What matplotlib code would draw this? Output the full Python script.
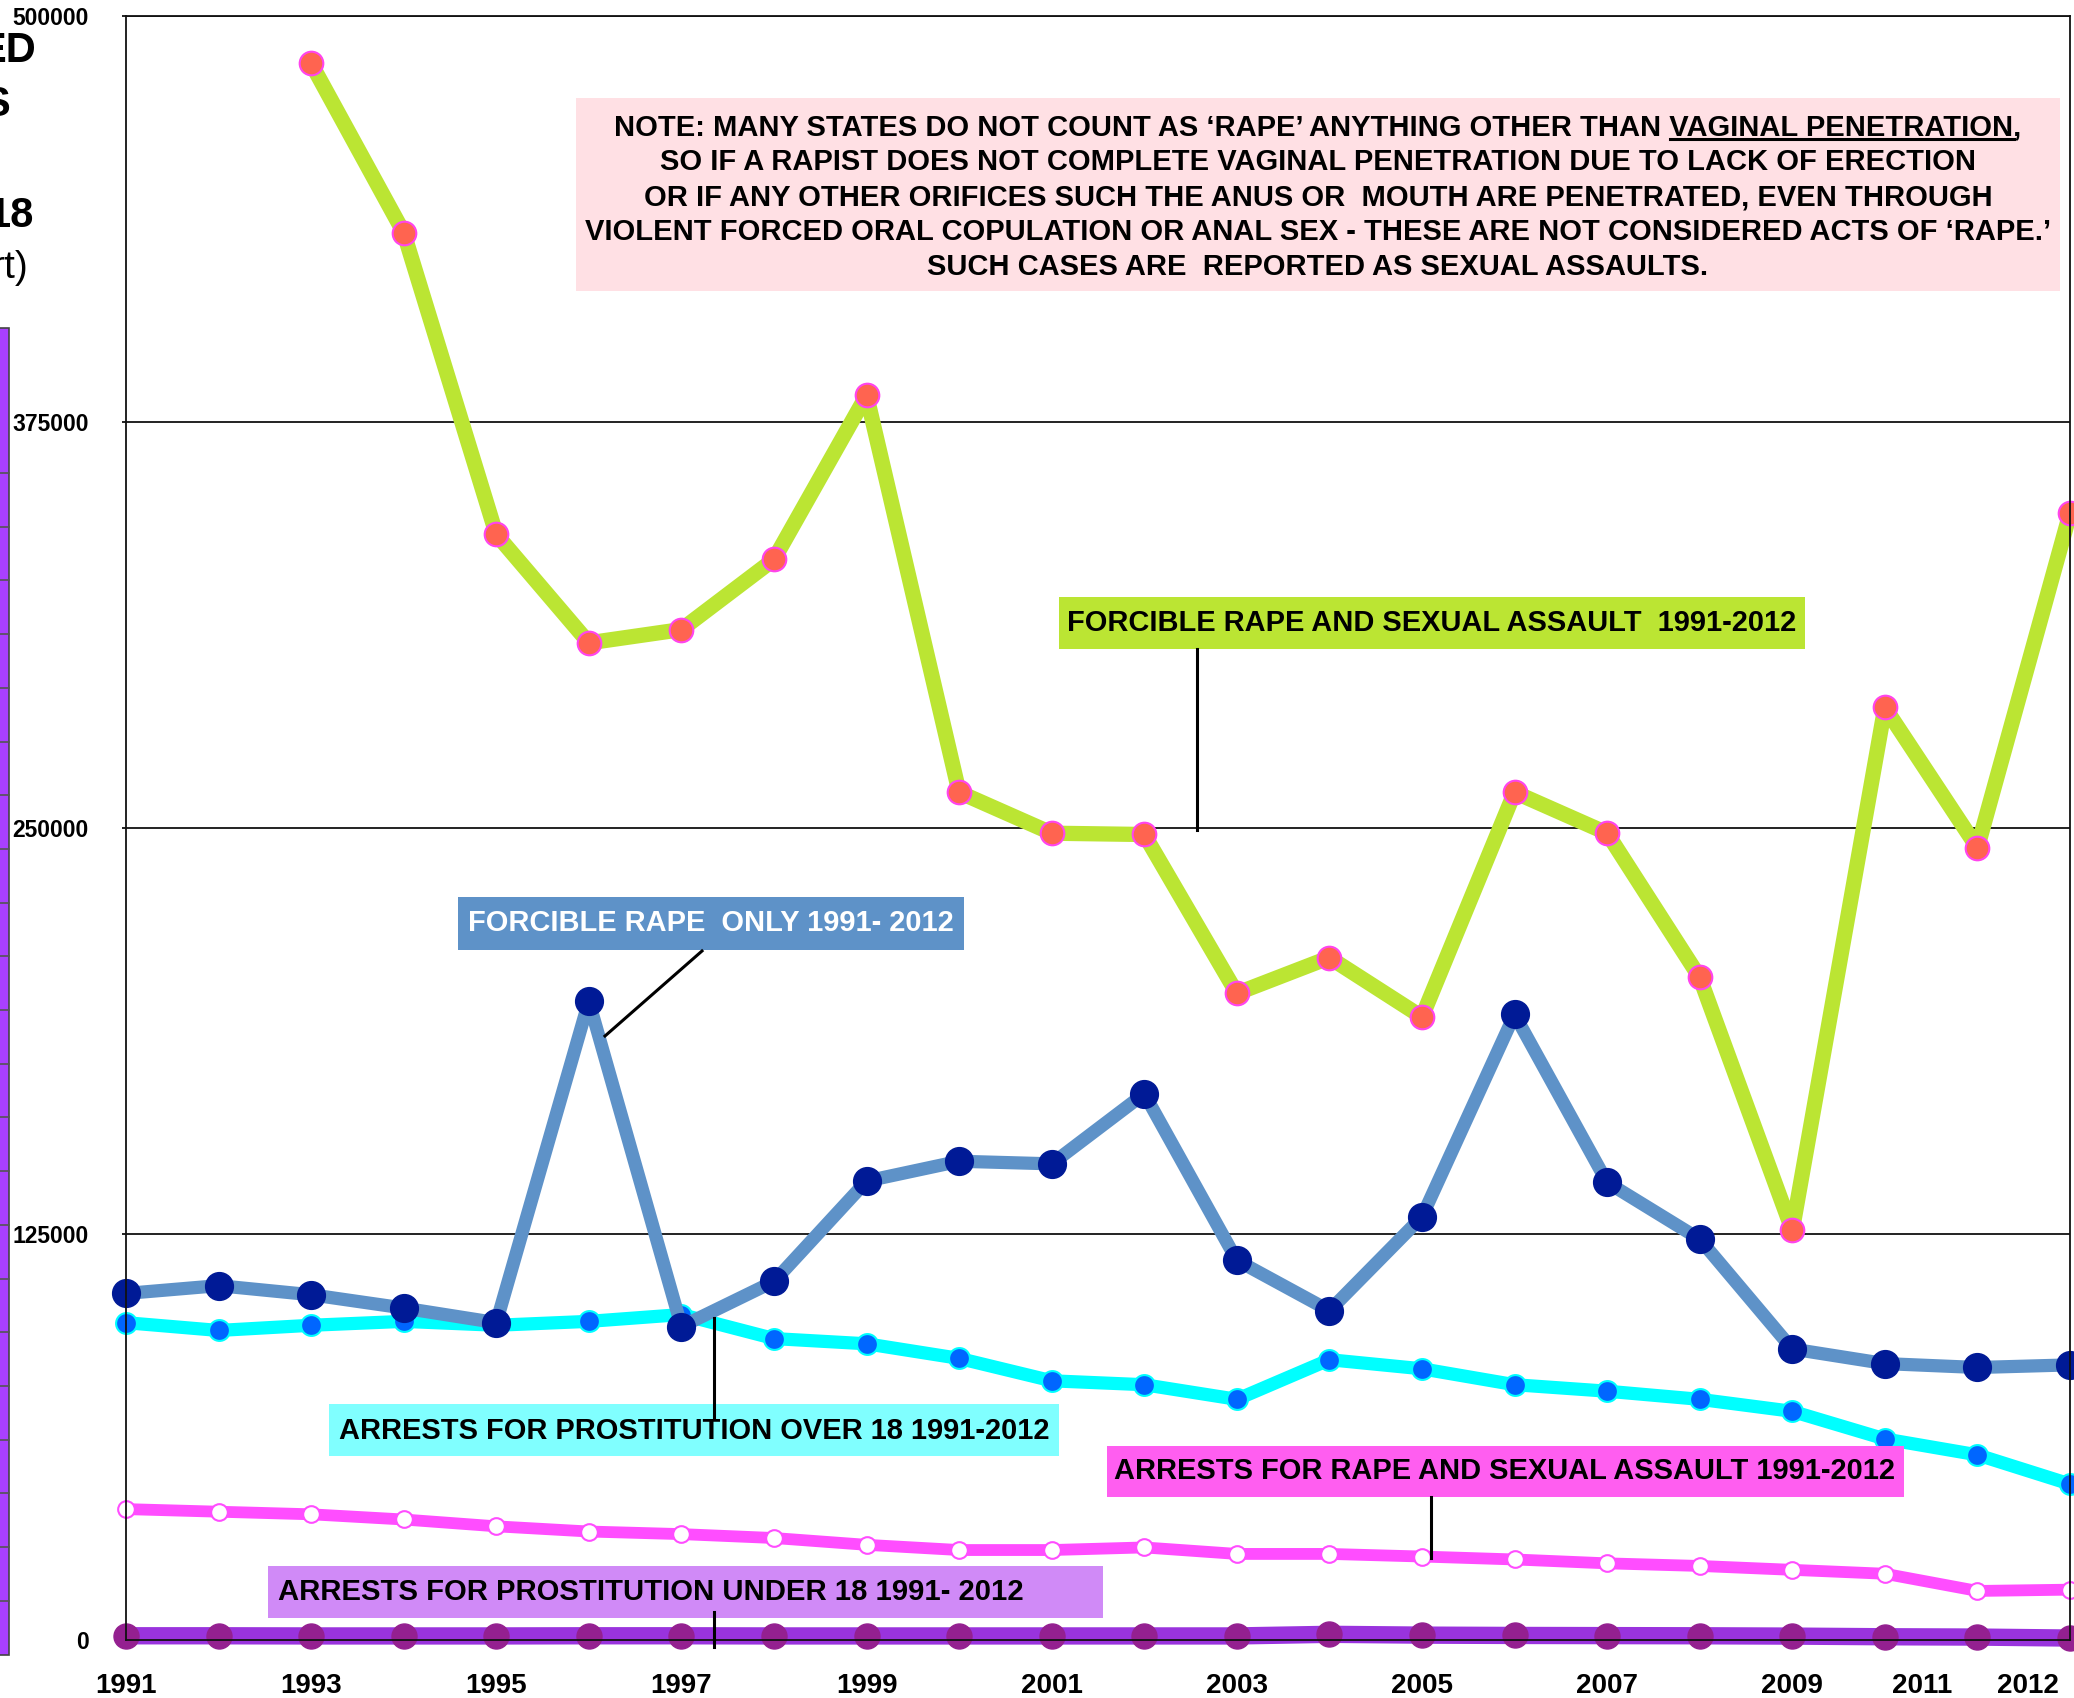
import matplotlib
matplotlib.use("Agg")
import matplotlib.pyplot as plt
from matplotlib.patches import Rectangle
from matplotlib.lines import Line2D

plt.rcParams['font.family'] = ['Liberation Sans', 'DejaVu Sans']

# --- data ---
years = list(range(1991, 2013))
idx = list(range(len(years)))

# forcible rape and sexual assault, starts 1993
sa_years_idx = idx[2:]
rape_sexual_assault = [485400, 433300, 340400, 307000, 311100, 332700, 383200,
                       261000, 248400, 248000, 199100, 210100, 191800, 261000,
                       248400, 204000, 126200, 287100, 243900, 346900]
forcible_rape = [106700, 109100, 106300, 102200, 97700, 196700, 96500, 110400,
                 141300, 147400, 146600, 168200, 116900, 101400, 130300, 192600,
                 140900, 123400, 89600, 85100, 83900, 84700]
prostitution_over18 = [97700, 95300, 96900, 98100, 96900, 98100, 100200, 92800,
                       91200, 86700, 79800, 78600, 74100, 86300, 83500, 78600,
                       76600, 74100, 70400, 61900, 57000, 48000]
arrests_rape_sa = [40300, 39500, 38700, 37100, 35000, 33400, 32600, 31400,
                   29300, 27700, 27700, 28500, 26500, 26500, 25700, 24800,
                   23600, 22800, 21600, 20400, 15100, 15500]
prostitution_under18 = [1300, 1300, 1250, 1250, 1250, 1300, 1300, 1250, 1250,
                        1250, 1250, 1250, 1250, 1750, 1500, 1400, 1350, 1300,
                        1200, 1000, 900, 600]

yticks = [0, 125000, 250000, 375000, 500000]
xtick_pos = [0, 2, 4, 6, 8, 10, 12, 14, 16, 18, 19.4, 20.55]
xtick_lab = ["1991", "1993", "1995", "1997", "1999", "2001", "2003", "2005",
             "2007", "2009", "2011", "2012"]

note_lines = [
    "NOTE: MANY STATES DO NOT COUNT AS \u2018RAPE\u2019 ANYTHING OTHER THAN VAGINAL PENETRATION,",
    "SO IF A RAPIST DOES NOT COMPLETE VAGINAL PENETRATION DUE TO LACK OF ERECTION",
    "OR IF ANY OTHER ORIFICES SUCH THE ANUS OR  MOUTH ARE PENETRATED, EVEN THROUGH",
    "VIOLENT FORCED ORAL COPULATION OR ANAL SEX - THESE ARE NOT CONSIDERED ACTS OF \u2018RAPE.\u2019",
    "SUCH CASES ARE  REPORTED AS SEXUAL ASSAULTS.",
]

W, H = 2074, 1698
fig = plt.figure(figsize=(W / 100, H / 100), dpi=100)


def fx(x):
    return x / W


def fy(y):
    return 1 - y / H


ax = fig.add_axes([fx(126), fy(1640), fx(2070) - fx(126), fy(16) - fy(1640)])

lw_axis = 1.3
ax.plot(sa_years_idx, rape_sexual_assault, color='#bbe533', lw=11,
        marker='o', ms=17, mfc='#ff6450', mec='#ff44ee', mew=1.5, clip_on=False)
ax.plot(idx, prostitution_over18, color='#00ffff', lw=9.5,
        marker='o', ms=15, mfc='#0066ff', mec='#00ffff', mew=1.5, clip_on=False)
ax.plot(idx, forcible_rape, color='#5e92c8', lw=9.5,
        marker='o', ms=20, mfc='#001a96', mec='#001a96', clip_on=False)
ax.plot(idx, arrests_rape_sa, color='#ff4dff', lw=8.5,
        marker='o', ms=12, mfc='white', mec='#ff4dff', mew=1.5, clip_on=False)
ax.plot(idx, prostitution_under18, color='#9933dd', lw=12.5,
        marker='o', ms=18, mfc='#942090', mec='#942090', clip_on=False)

ax.set_xlim(0, 21)
ax.set_ylim(0, 500000)
ax.set_yticks(yticks)
ax.set_yticklabels([str(v) for v in yticks], fontsize=16.5, fontweight='bold')
ax.yaxis.grid(True, color='#111111', lw=lw_axis)
ax.tick_params(axis='y', length=3, width=lw_axis, pad=24, color='#111111')
ax.set_xticks(xtick_pos)
ax.set_xticklabels(xtick_lab, fontsize=20, fontweight='bold')
ax.tick_params(axis='x', length=0, pad=24)
for s in ax.spines.values():
    s.set_linewidth(lw_axis)
    s.set_color('#111111')

renderer = fig.canvas.get_renderer()


def fit_text(x, y, txt, width_px, color='black', size=18, ha='center'):
    t = fig.text(fx(x), fy(y), txt, ha=ha, va='center', color=color,
                 fontsize=size, fontweight='bold', zorder=6)
    bb = t.get_window_extent(renderer)
    t.set_fontsize(size * width_px / bb.width)
    return t


def box(x0, y0, x1, y1, color):
    fig.patches.append(Rectangle((fx(x0), fy(y1)), fx(x1) - fx(x0), fy(y0) - fy(y1),
                                 transform=fig.transFigure, facecolor=color,
                                 edgecolor='none', zorder=5))


def leader(x0, y0, x1, y1):
    fig.lines.append(Line2D([fx(x0), fx(x1)], [fy(y0), fy(y1)], color='black',
                            lw=2.2, transform=fig.transFigure, zorder=5.5))


# note box
box(576, 98, 2060, 291, '#ffe0e4')
t1 = fit_text(1318, 127, note_lines[0], 1399)
note_size = t1.get_fontsize()
for k, line in enumerate(note_lines[1:]):
    fig.text(fx(1318), fy(162 + 35 * k), line, ha='center', va='center',
             fontsize=note_size, fontweight='bold', zorder=6)

# underline "VAGINAL PENETRATION"
full_w = t1.get_window_extent(renderer).width
tmp = fig.text(0, 0, "VAGINAL PENETRATION,", fontsize=note_size, fontweight='bold')
w_tail = tmp.get_window_extent(renderer).width
tmp.set_text("VAGINAL PENETRATION")
w_ul = tmp.get_window_extent(renderer).width
tmp.remove()
x_right = 1318 + full_w / 2
leader(x_right - w_tail, 139, x_right - w_tail + w_ul, 139)

# series labels
box(1059, 597, 1805, 649, '#bbe533')
fit_text(1432, 623, "FORCIBLE RAPE AND SEXUAL ASSAULT  1991-2012", 727)
leader(1197, 649, 1197, 830)

box(458, 897, 964, 950, '#5e92c8')
fit_text(711, 923, "FORCIBLE RAPE  ONLY 1991- 2012", 485, color='white')
leader(702, 951, 605, 1036)

box(329, 1404, 1059, 1456, '#80ffff')
leader(714, 1318, 714, 1417)
fit_text(694, 1431, "ARRESTS FOR PROSTITUTION OVER 18 1991-2012", 709)

box(1107, 1446, 1904, 1497, '#ff5ef0')
fit_text(1505, 1471, "ARRESTS FOR RAPE AND SEXUAL ASSAULT 1991-2012", 779)
leader(1431, 1497, 1431, 1558)

box(268, 1566, 1103, 1618, '#d08af7')
fit_text(278, 1592, "ARRESTS FOR PROSTITUTION UNDER 18 1991- 2012", 742, ha='left')
leader(714, 1612, 714, 1647)

# cropped piece of a neighbouring chart on the left
fig.patches.append(Rectangle((fx(-2), fy(1655)), fx(10.5), fy(328) - fy(1655),
                             transform=fig.transFigure, facecolor='#a940ff',
                             edgecolor='#444444', lw=1.2, zorder=1))
yy = 473
while yy < 1650:
    fig.lines.append(Line2D([0, fx(8.5)], [fy(yy), fy(yy)], color='#555555',
                            lw=1.2, transform=fig.transFigure, zorder=1.5))
    yy += 53.7

# text of the neighbouring chart, cut by the left edge as in the original
fig.text(fx(36), fy(51), "ED", ha='right', va='center', fontsize=30, fontweight='bold')
fig.text(fx(11), fy(105), "S", ha='right', va='center', fontsize=30, fontweight='bold')
fig.text(fx(34), fy(216), "18", ha='right', va='center', fontsize=30, fontweight='bold')
fig.text(fx(28), fy(268), "rt)", ha='right', va='center', fontsize=28)

fig.savefig("out.png", dpi=100)
